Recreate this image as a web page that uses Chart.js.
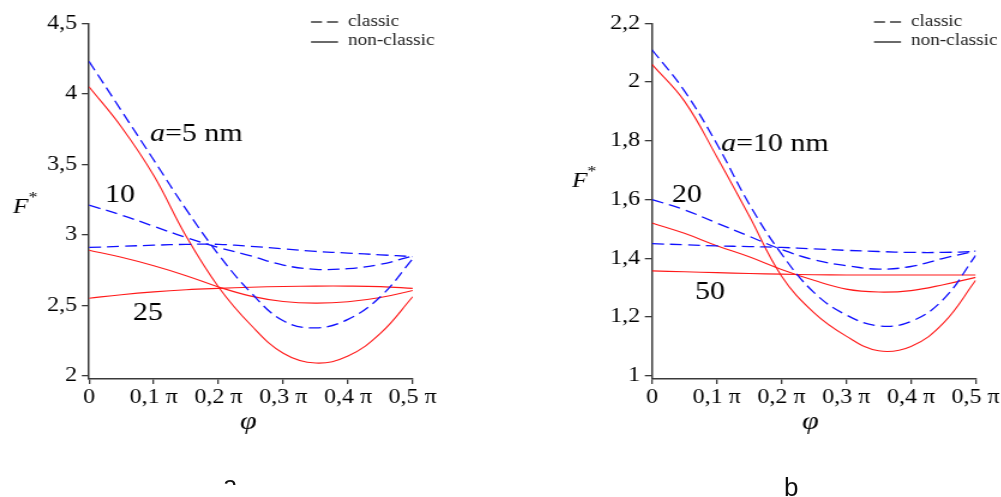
<!DOCTYPE html>
<html>
<head>
<meta charset="utf-8">
<script src="https://cdn.jsdelivr.net/npm/chart.js@4.4.1/dist/chart.umd.min.js"></script>
<style>
    html, body { margin: 0; padding: 0; background: #fff; overflow: hidden; width: 1001px; height: 497px; }
    .painel { position: absolute; top: 0; width: 417px; height: 497px; transform: scaleX(1.2); transform-origin: 0 0; }
    #painelA { left: 0; }
    #painelB { left: 500px; }
    .rotulo { position: absolute; font-family: "Liberation Sans", Arial, sans-serif; font-size: 26px; line-height: 30px; color: #111; overflow: hidden; }
</style>
</head>
<body>
<div class="painel" id="painelA"><canvas id="graficoA" width="417" height="497"></canvas></div>
<div class="painel" id="painelB"><canvas id="graficoB" width="417" height="497"></canvas></div>
<div class="rotulo" style="left:223px; top:470px; height:15px;">a</div>
<div class="rotulo" style="left:784px; top:472px; height:30px;">b</div>

<script>
// angulo phi em unidades de pi
const fi = [0, 0.05, 0.1, 0.15, 0.2, 0.25, 0.3, 0.35, 0.4, 0.45, 0.5];
const fiTicks = [0, 0.1, 0.2, 0.3, 0.4, 0.5];

// painel a
const classicoA5 = [4.23, 3.88, 3.53, 3.18, 2.86, 2.59, 2.39, 2.34, 2.40, 2.56, 2.83];
const classicoA10 = [3.21, 3.14, 3.06, 2.98, 2.91, 2.85, 2.785, 2.755, 2.76, 2.79, 2.85];
const classicoA25 = [2.91, 2.918, 2.926, 2.932, 2.932, 2.918, 2.90, 2.882, 2.87, 2.858, 2.845];
const naoClassicoA5 = [4.05, 3.765, 3.42, 2.99, 2.63, 2.36, 2.16, 2.09, 2.14, 2.30, 2.56];
const naoClassicoA10 = [2.89, 2.84, 2.78, 2.71, 2.63, 2.565, 2.527, 2.515, 2.525, 2.555, 2.605];
const naoClassicoA25 = [2.55, 2.575, 2.595, 2.61, 2.62, 2.628, 2.633, 2.636, 2.636, 2.632, 2.62];
const yTicksA = [2, 2.5, 3, 3.5, 4, 4.5];

// painel b
const classicoB10 = [2.11, 1.97, 1.79, 1.585, 1.415, 1.284, 1.207, 1.17, 1.185, 1.26, 1.41];
const classicoB20 = [1.60, 1.565, 1.52, 1.475, 1.43, 1.395, 1.375, 1.363, 1.372, 1.40, 1.425];
const classicoB50 = [1.45, 1.446, 1.442, 1.44, 1.437, 1.432, 1.427, 1.423, 1.42, 1.42, 1.423];
const naoClassicoB10 = [2.06, 1.935, 1.746, 1.545, 1.34, 1.215, 1.135, 1.085, 1.10, 1.179, 1.325];
const naoClassicoB20 = [1.52, 1.485, 1.443, 1.405, 1.362, 1.325, 1.295, 1.285, 1.29, 1.31, 1.335];
const naoClassicoB50 = [1.357, 1.354, 1.351, 1.348, 1.346, 1.344, 1.343, 1.343, 1.343, 1.343, 1.343];
const yTicksB = [1, 1.2, 1.4, 1.6, 1.8, 2, 2.2];

const ESTICAR = 1.2; // a figura original esta esticada na horizontal
const AZUL = '#1010ff';
const VERMELHO = '#ff1a1a';
const EIXO = '#3a3a3a';
const FONTE = '"Liberation Serif", "Times New Roman", serif';

function serie(valores, classico) {
    return {
        data: fi.map((x, i) => ({ x: x, y: valores[i] })),
        borderColor: classico ? AZUL : VERMELHO,
        borderWidth: classico ? 1.3 : 1.1,
        borderDash: classico ? [10, 5] : [],
        pointRadius: 0,
        tension: 0.4,
        fill: false
    };
}

function formatarNumero(v) {
    return String(Number(v.toFixed(1))).replace('.', ',');
}

// escreve texto com partes em italico; x em pixels finais do painel
function escrever(ctx, x, y, partes, tamanho) {
    let cx = x / ESTICAR;
    for (let p of partes) {
        ctx.font = `${p.italico ? 'italic ' : ''}${p.tam || tamanho}px ${FONTE}`;
        ctx.fillText(p.texto, cx, y + (p.dy || 0));
        cx += ctx.measureText(p.texto).width;
    }
}

function pluginTextos(cfg) {
    return {
        id: 'textos',
        afterDraw(chart) {
            const ctx = chart.ctx;
            ctx.save();
            ctx.fillStyle = '#000';
            ctx.textBaseline = 'alphabetic';
            ctx.textAlign = 'left';

            for (let t of cfg.anotacoes) {
                escrever(ctx, t.x, t.y, t.partes, t.tam);
            }

            // legenda: tracejado = classico, continuo = nao classico
            const lx = cfg.legenda.x;
            ctx.strokeStyle = EIXO;
            ctx.lineWidth = 1.3;
            ctx.beginPath();
            ctx.moveTo(lx / ESTICAR, 22); ctx.lineTo((lx + 11) / ESTICAR, 22);
            ctx.moveTo((lx + 16) / ESTICAR, 22); ctx.lineTo((lx + 27) / ESTICAR, 22);
            ctx.moveTo(lx / ESTICAR, 42); ctx.lineTo((lx + 27) / ESTICAR, 42);
            ctx.stroke();
            ctx.fillStyle = '#222';
            escrever(ctx, lx + 37, 26, [{ texto: 'classic' }], 16);
            escrever(ctx, lx + 37, 45, [{ texto: 'non-classic' }], 16);
            ctx.restore();
        }
    };
}

function criarGrafico(id, cfg) {
    const ctx = document.getElementById(id).getContext('2d');
    return new Chart(ctx, {
        type: 'line',
        data: { datasets: cfg.series },
        options: {
            responsive: false,
            animation: false,
            layout: { padding: cfg.padding },
            plugins: { legend: { display: false }, tooltip: { enabled: false } },
            scales: {
                x: {
                    type: 'linear',
                    min: 0,
                    max: 0.5,
                    afterBuildTicks: (escala) => { escala.ticks = fiTicks.map(v => ({ value: v })); },
                    afterFit: (escala) => { escala.height = 40; escala.paddingLeft = 0; escala.paddingRight = 0; },
                    ticks: {
                        color: '#000',
                        font: { family: FONTE, size: 20 },
                        padding: 2,
                        maxRotation: 0,
                        callback: (v) => v === 0 ? '0' : formatarNumero(v) + ' π'
                    },
                    grid: { drawOnChartArea: false, drawTicks: true, tickLength: 5, color: EIXO, lineWidth: 1.3 },
                    border: { display: true, color: EIXO, width: 1.5 }
                },
                y: {
                    type: 'linear',
                    min: cfg.yMin,
                    max: cfg.yMax,
                    afterBuildTicks: (escala) => { escala.ticks = cfg.yTicks.map(v => ({ value: v })); },
                    afterFit: (escala) => { escala.width = 50; escala.paddingTop = 0; escala.paddingBottom = 0; },
                    ticks: {
                        color: '#000',
                        font: { family: FONTE, size: 20 },
                        padding: 4,
                        callback: (v) => formatarNumero(v)
                    },
                    grid: { drawOnChartArea: false, drawTicks: true, tickLength: 6, color: EIXO, lineWidth: 1.3 },
                    border: { display: true, color: EIXO, width: 1.5 }
                }
            }
        },
        plugins: [pluginTextos(cfg)]
    });
}

document.addEventListener('DOMContentLoaded', function () {
    criarGrafico('graficoA', {
        series: [
            serie(classicoA5, true), serie(classicoA10, true), serie(classicoA25, true),
            serie(naoClassicoA5, false), serie(naoClassicoA10, false), serie(naoClassicoA25, false)
        ],
        yMin: 1.977, yMax: 4.5, yTicks: yTicksA,
        padding: { left: 89 / ESTICAR - 50, right: 417 - 412.7 / ESTICAR, top: 23.3, bottom: 497 - 379 - 40 },
        legenda: { x: 311 },
        anotacoes: [
            { x: 150, y: 141, tam: 25, partes: [{ texto: 'a', italico: true }, { texto: '=5 nm' }] },
            { x: 105, y: 202, tam: 25, partes: [{ texto: '10' }] },
            { x: 133, y: 320, tam: 25, partes: [{ texto: '25' }] },
            { x: 13, y: 213, tam: 21, partes: [{ texto: 'F', italico: true }, { texto: '*', tam: 15, dy: -11 }] },
            { x: 240, y: 429, tam: 25, partes: [{ texto: 'φ', italico: true }] }
        ]
    });

    criarGrafico('graficoB', {
        series: [
            serie(classicoB10, true), serie(classicoB20, true), serie(classicoB50, true),
            serie(naoClassicoB10, false), serie(naoClassicoB20, false), serie(naoClassicoB50, false)
        ],
        yMin: 0.989, yMax: 2.2, yTicks: yTicksB,
        padding: { left: 152 / ESTICAR - 50, right: 417 - 475.7 / ESTICAR, top: 23.3, bottom: 497 - 379 - 40 },
        legenda: { x: 374 },
        anotacoes: [
            { x: 221, y: 151, tam: 25, partes: [{ texto: 'a', italico: true }, { texto: '=10 nm' }] },
            { x: 172, y: 202, tam: 25, partes: [{ texto: '20' }] },
            { x: 195, y: 299, tam: 25, partes: [{ texto: '50' }] },
            { x: 72, y: 187, tam: 21, partes: [{ texto: 'F', italico: true }, { texto: '*', tam: 15, dy: -11 }] },
            { x: 302, y: 429, tam: 25, partes: [{ texto: 'φ', italico: true }] }
        ]
    });
});
</script>
</body>
</html>
